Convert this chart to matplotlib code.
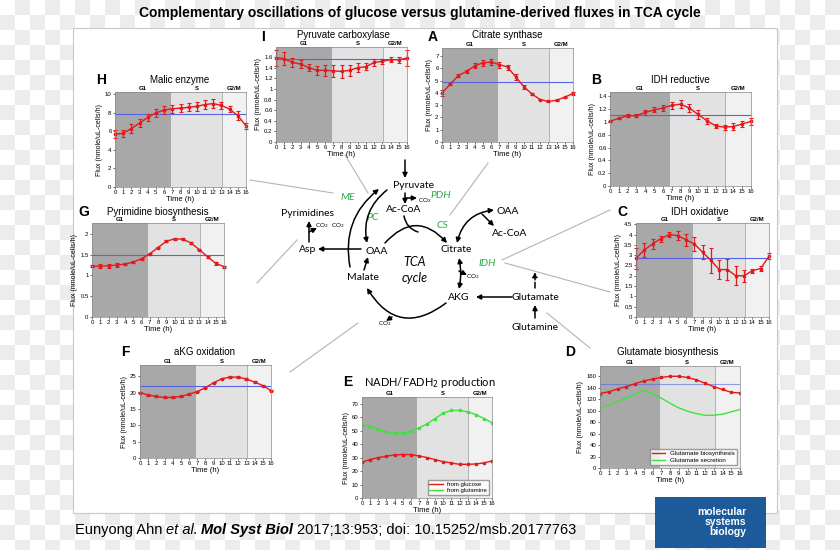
import numpy as np
import matplotlib.pyplot as plt
from matplotlib.colors import ListedColormap
from matplotlib.patches import Rectangle
from matplotlib.ticker import FormatStrFormatter

W, H = 840, 550
plt.rcParams['font.family'] = ['Liberation Sans', 'DejaVu Sans']

hours = list(range(17))
phase_labels = ['G1', 'S', 'G2/M']
phase_edges = [0, 6.8, 13.1, 16]

# Pyruvate carboxylase (I)
pc_flux = [1.59, 1.57, 1.50, 1.47, 1.40, 1.35, 1.35, 1.34, 1.33, 1.35, 1.40, 1.42, 1.50, 1.52, 1.55, 1.55, 1.58]
pc_err = [0.15, 0.12, 0.08, 0.08, 0.07, 0.09, 0.10, 0.12, 0.12, 0.10, 0.08, 0.06, 0.06, 0.05, 0.05, 0.06, 0.15]
pc_mean = 1.56
pc_ticks = [0, 0.2, 0.4, 0.6, 0.8, 1, 1.2, 1.4, 1.6]

# Citrate synthase (A)
cs_flux = [4.0, 4.7, 5.4, 5.75, 6.2, 6.45, 6.5, 6.3, 6.1, 5.3, 4.5, 3.9, 3.45, 3.3, 3.4, 3.65, 3.95]
cs_err = [0.25, 0.1, 0.15, 0.1, 0.2, 0.25, 0.25, 0.25, 0.2, 0.25, 0.15, 0.1, 0.05, 0.05, 0.05, 0.05, 0.1]
cs_mean = 4.85
cs_ticks = [0, 1, 2, 3, 4, 5, 6, 7]

# Malic enzyme (H)
me_flux = [5.7, 5.8, 6.3, 6.9, 7.5, 8.0, 8.3, 8.45, 8.5, 8.6, 8.7, 8.9, 9.0, 8.8, 8.4, 7.7, 6.6]
me_err = [0.4, 0.4, 0.45, 0.45, 0.4, 0.4, 0.45, 0.45, 0.45, 0.45, 0.45, 0.45, 0.45, 0.4, 0.35, 0.45, 0.3]
me_mean = 7.85
me_ticks = [0, 2, 4, 6, 8, 10]

# IDH reductive (B)
idhr_flux = [1.01, 1.06, 1.10, 1.10, 1.15, 1.19, 1.22, 1.26, 1.28, 1.22, 1.12, 1.02, 0.94, 0.92, 0.93, 0.97, 1.01]
idhr_err = [0.01, 0.01, 0.02, 0.02, 0.04, 0.04, 0.05, 0.06, 0.06, 0.06, 0.07, 0.05, 0.03, 0.04, 0.05, 0.05, 0.06]
idhr_mean = 1.11
idhr_ticks = [0, 0.2, 0.4, 0.6, 0.8, 1, 1.2, 1.4]

# Pyrimidine biosynthesis (G)
pyr_flux = [1.22, 1.22, 1.23, 1.25, 1.27, 1.32, 1.40, 1.52, 1.67, 1.82, 1.88, 1.87, 1.78, 1.62, 1.45, 1.29, 1.21]
pyr_err = [0.02, 0.05, 0.04, 0.04, 0.02, 0.02, 0.02, 0.02, 0.02, 0.02, 0.03, 0.03, 0.02, 0.02, 0.02, 0.03, 0.02]
pyr_mean = 1.5
pyr_ticks = [0, 0.5, 1, 1.5, 2]

# IDH oxidative (C)
idho_flux = [2.85, 3.25, 3.55, 3.8, 4.0, 3.95, 3.75, 3.55, 3.15, 2.75, 2.3, 2.3, 2.0, 2.0, 2.25, 2.35, 2.95]
idho_err = [0.5, 0.35, 0.25, 0.15, 0.1, 0.2, 0.3, 0.35, 0.35, 0.6, 0.45, 0.5, 0.45, 0.3, 0.1, 0.1, 0.15]
idho_mean = 2.85
idho_ticks = [0, 0.5, 1, 1.5, 2, 2.5, 3, 3.5, 4, 4.5]

# aKG oxidation (F)
akg_flux = [20.0, 19.2, 18.8, 18.5, 18.5, 18.8, 19.5, 20.3, 21.5, 23.0, 24.2, 24.7, 24.7, 24.1, 23.2, 22.1, 20.6]
akg_err = [0.2] * 17
akg_mean = 22.0
akg_ticks = [0, 5, 10, 15, 20, 25]

# NADH/FADH2 production (E)
nadh_glc = [26.5, 28.5, 30, 31, 32, 32.3, 32.2, 31.3, 30, 28.5, 27, 26, 25, 25, 25.3, 26, 27.5]
nadh_gln = [54.5, 53, 51, 49, 48, 48.2, 49.5, 52, 55, 59, 63, 65, 65, 64, 62, 59, 56]
nadh_ticks = [0, 10, 20, 30, 40, 50, 60, 70]

# Glutamate biosynthesis (D)
glu_bio = [130, 133, 138, 142, 147, 152, 155, 158, 160, 160, 158, 154, 148, 142, 137, 132, 131]
glu_sec = [104, 110, 116, 122, 128, 136, 130, 122, 113, 105, 99, 95, 92, 92, 94, 98, 102]
glu_mean = 147
glu_ticks = [0, 20, 40, 60, 80, 100, 120, 140, 160]

RED = '#e3191c'
GREEN = '#3ee23e'
BLUE = '#5565e6'
phase_colors = ['#a8a8a8', '#e2e2e2', '#f1f1f1']

fig = plt.figure(figsize=(W / 100, H / 100), dpi=100)

# background axes in pixel units (y down)
bg = fig.add_axes([0, 0, 1, 1])
cell = 15
rows, cols = H // cell + 1, W // cell + 1
checker = np.indices((rows, cols)).sum(axis=0) % 2
bg.imshow(checker, cmap=ListedColormap(['#ffffff', '#ececec']), extent=[0, cols * cell, rows * cell, 0],
          interpolation='nearest', aspect='auto')
bg.set_xlim(0, W)
bg.set_ylim(H, 0)
bg.axis('off')
bg.add_patch(Rectangle((73, 28), 704, 485, facecolor='white', edgecolor='#c8c8c8', lw=0.8))

bg.text(420, 13, 'Complementary oscillations of glucose versus glutamine-derived fluxes in TCA cycle',
        ha='center', va='center', fontsize=10, fontweight='bold')


def make_panel(box, ylim, yticks):
    x0, y0, x1, y1 = box
    ax = fig.add_axes([x0 / W, 1 - y1 / H, (x1 - x0) / W, (y1 - y0) / H])
    for i in range(3):
        ax.axvspan(phase_edges[i], phase_edges[i + 1], color=phase_colors[i], lw=0)
    ax.axvline(phase_edges[2], color='#9a9a9a', lw=0.5)
    for i, lbl in enumerate(phase_labels):
        ax.text((phase_edges[i] + phase_edges[i + 1]) / 2, 1.01, lbl, transform=ax.get_xaxis_transform(),
                ha='center', va='bottom', fontsize=4.3, fontweight='bold')
    ax.set_xlim(0, 16)
    ax.set_ylim(*ylim)
    ax.set_xticks(hours)
    ax.set_yticks(yticks)
    ax.yaxis.set_major_formatter(FormatStrFormatter('%g'))
    ax.tick_params(labelsize=4.3, length=1.5, width=0.4, pad=1)
    for s in ax.spines.values():
        s.set_color('#888888')
        s.set_linewidth(0.5)
    ax.set_xlabel('Time (h)', fontsize=5.5, labelpad=0.5)
    ax.set_ylabel('Flux (nmole/uL-cells/h)', fontsize=5, labelpad=1.5)
    return ax


def flux_panel(box, ylim, yticks, flux, err, mean):
    ax = make_panel(box, ylim, yticks)
    ax.axhline(mean, color=BLUE, lw=0.8)
    ax.errorbar(hours, flux, yerr=err, color=RED, lw=1.0, marker='s', ms=1.6,
                elinewidth=0.9, capsize=1.3, capthick=0.8, clip_on=False)
    return ax


flux_panel((276, 47, 407, 142), (0, 1.79), pc_ticks, pc_flux, pc_err, pc_mean)
flux_panel((442, 48, 573, 142), (0, 7.65), cs_ticks, cs_flux, cs_err, cs_mean)
flux_panel((115, 92, 246, 187), (0, 10.25), me_ticks, me_flux, me_err, me_mean)
flux_panel((610, 92, 751, 186), (0, 1.47), idhr_ticks, idhr_flux, idhr_err, idhr_mean)
flux_panel((92, 223, 224, 317), (0, 2.26), pyr_ticks, pyr_flux, pyr_err, pyr_mean)
flux_panel((636, 223, 769, 317), (0, 4.56), idho_ticks, idho_flux, idho_err, idho_mean)
flux_panel((140, 365, 271, 458), (0, 28.4), akg_ticks, akg_flux, akg_err, akg_mean)

axE = make_panel((362, 397, 492, 498), (0, 75), nadh_ticks)
axE.plot(hours, nadh_glc, color=RED, lw=1.0, marker='s', ms=1.6, label='from glucose')
axE.plot(hours, nadh_gln, color=GREEN, lw=1.0, marker='s', ms=1.6, label='from glutamine')
axE.legend(loc='lower right', fontsize=4.3, frameon=True, fancybox=False, edgecolor='#888888',
           handlelength=2.2, borderpad=0.3, labelspacing=0.2, markerscale=0)

axD = make_panel((600, 366, 740, 468), (0, 178), glu_ticks)
axD.axhline(glu_mean, color=BLUE, lw=0.8, alpha=0.6)
axD.plot(hours, glu_bio, color=RED, lw=1.0, marker='s', ms=1.6, label='Glutamate biosynthesis')
axD.plot(hours, glu_sec, color=GREEN, lw=1.0, label='Glutamate secretion')
axD.legend(loc='lower right', fontsize=4.5, frameon=True, fancybox=False, edgecolor='#888888',
           handlelength=2.2, borderpad=0.3, labelspacing=0.2, markerscale=0)

# panel letters and titles
letters = [('I', 263, 37), ('A', 433, 37), ('H', 101, 80), ('B', 596, 80), ('G', 84, 212),
           ('C', 622, 212), ('F', 125, 352), ('E', 348, 382), ('D', 570, 352)]
for s, x, y in letters:
    bg.text(x, y, s, ha='center', va='center', fontsize=10, fontweight='bold')
titles = [('Pyruvate carboxylase', 343, 35), ('Citrate synthase', 507, 35), ('Malic enzyme', 180, 80),
          ('IDH reductive', 680, 80), ('Pyrimidine biosynthesis', 158, 212), ('IDH oxidative', 700, 212),
          ('aKG oxidation', 205, 352), ('Glutamate biosynthesis', 668, 352)]
for s, x, y in titles:
    bg.text(x, y, s, ha='center', va='center', fontsize=7)
bg.text(430, 382, 'NADH/FADH$_2$ production', ha='center', va='center', fontsize=8, family='Lato')

# connector lines from panels to the pathway
connectors = [((250, 180), (333, 193)), ((345, 155), (368, 193)), ((488, 163), (450, 215)),
              ((297, 240), (257, 283)), ((502, 260), (610, 210)), ((505, 263), (610, 292)),
              ((358, 323), (290, 372)), ((547, 313), (590, 348))]
for (xa, ya), (xb, yb) in connectors:
    bg.plot([xa, xb], [ya, yb], color='#b4b4b4', lw=0.8)

# pathway diagram
dfont = 'Lato'
metabolites = [('Pyruvate', 413, 186), ('Ac-CoA', 404, 210), ('Pyrimidines', 307, 213), ('Asp', 308, 250),
               ('OAA', 377, 251), ('Malate', 363, 278), ('Citrate', 456, 250), ('OAA', 508, 211),
               ('Ac-CoA', 510, 233), ('AKG', 459, 297), ('Glutamate', 535, 297), ('Glutamine', 535, 327)]
for s, x, y in metabolites:
    bg.text(x, y, s, ha='center', va='center', fontsize=7.5, family=dfont)
enzymes = [('ME', 348, 197), ('PC', 373, 218), ('PDH', 441, 195), ('CS', 442, 225), ('IDH', 487, 263)]
for s, x, y in enzymes:
    bg.text(x, y, s, ha='center', va='center', fontsize=7.5, family=dfont, style='italic', color='#2ea84a')
bg.text(415, 262, 'TCA', ha='center', va='center', fontsize=9, family=dfont, style='italic')
bg.text(415, 278, 'cycle', ha='center', va='center', fontsize=9, family=dfont, style='italic')
for x, y in [(425, 201), (322, 226), (338, 226), (473, 277), (385, 324)]:
    bg.text(x, y, 'CO$_2$', ha='center', va='center', fontsize=4.5, family=dfont)


def arrow(p0, p1, rad=0.0, style='-|>', ls='-'):
    bg.annotate('', xy=p1, xytext=p0,
                arrowprops=dict(arrowstyle=style, connectionstyle=f'arc3,rad={rad}', color='k', lw=1.1,
                                shrinkA=0, shrinkB=0, mutation_scale=7, linestyle=ls))


arrow((405, 160), (405, 178))
arrow((405, 193), (405, 204))
arrow((405, 198), (417, 198))
arrow((404, 216), (418, 232), 0.3, '-')
arrow((385, 243), (447, 243), -0.55)
arrow((459, 258), (459, 289), -0.1, '<|-|>')
arrow((459, 271), (467, 275))
arrow((446, 303), (367, 288), -0.55)
arrow((392, 317), (386, 321))
arrow((364, 270), (368, 257))
arrow((350, 267), (379, 189), -0.3)
arrow((387, 190), (367, 243), 0.3)
arrow((361, 249), (318, 249))
arrow((309, 242), (309, 221))
arrow((309, 232), (317, 228))
arrow((457, 243), (494, 210), -0.35, '<|-|>')
arrow((482, 214), (494, 226))
arrow((512, 297), (476, 297))
arrow((535, 318), (535, 305))
arrow((535, 288), (535, 272), 0.0, '-|>', '--')

# citation line
renderer = fig.canvas.get_renderer()
pieces = [('Eunyong Ahn', 'normal', 'normal'), ('et al.', 'italic', 'normal'),
          ('Mol Syst Biol', 'italic', 'bold'), ('2017;13:953; doi: 10.15252/msb.20177763', 'normal', 'normal')]
xpos = 75
for s, st, wt in pieces:
    t = bg.text(xpos, 530, s, ha='left', va='center', fontsize=10.5, style=st, fontweight=wt)
    xpos += t.get_window_extent(renderer).width + 3.5

# journal logo
bg.add_patch(Rectangle((655, 497), 111, 51, facecolor='#1d5a99', edgecolor='none'))
bg.text(746, 522, 'molecular\nsystems\nbiology', ha='right', va='center', fontsize=7.5,
        fontweight='bold', color='white', linespacing=0.95)

fig.savefig('out.png', dpi=100)
